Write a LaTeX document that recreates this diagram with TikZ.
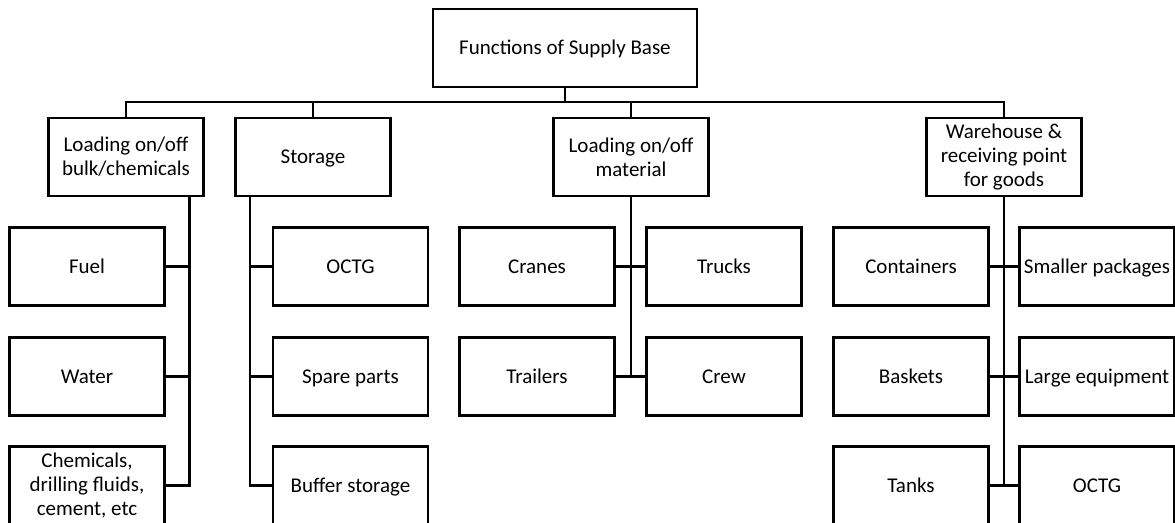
\documentclass[tikz,border=0pt]{standalone}
\usepackage{fontspec}
\setmainfont{Carlito}
\usetikzlibrary{positioning,calc}
\tikzset{fbox/.style={draw, line width=2.6pt, minimum width=155pt, minimum height=78pt, inner sep=1pt, align=center, font=\fontsize{21}{24}\selectfont}}
\tikzset{sbox/.style={fbox, text height=18pt, text depth=4.5pt}}
\tikzset{link/.style={draw, line width=2.6pt}}

\begin{document}
\begin{tikzpicture}[x=1pt, y=-1pt]
	\useasboundingbox (0,0) rectangle (1175,522);
	% top and first level
	\node[sbox, minimum width=264pt] (func) at (565,48) {Functions of Supply Base};
	\node[fbox] (bulk) at (126,157) {Loading on/off\\bulk/chemicals};
	\node[sbox] (store) at (313,157) {Storage};
	\node[fbox] (mat) at (631,157) {Loading on/off\\material};
	\node[fbox] (ware) at (1004,157) {Warehouse \&\\receiving point\\for goods};
	%
	\coordinate (bus) at (565,102);
	\draw[link] (func.south) -- (bus);
	\draw[link] (bulk.north) |- (bus) -| (ware.north);
	\draw[link] (store.north) |- (bus);
	\draw[link] (mat.north) |- (bus);
	% bulk/chemicals
	\node[sbox] (fuel) at (87,266.5) {Fuel};
	\node[sbox] (water) at (87,376.5) {Water};
	\node[fbox] (chem) at (87,485.5) {Chemicals,\\drilling fluids,\\cement, etc};
	\coordinate (tA) at ([xshift=-15.5pt]bulk.south east);
	\draw[link] (tA) |- (chem.east);
	\draw[link] (fuel.east) -- (fuel.east -| tA);
	\draw[link] (water.east) -- (water.east -| tA);
	% storage
	\node[sbox] (octg) at (350.5,266.5) {OCTG};
	\node[sbox] (spare) at (350.5,376.5) {Spare parts};
	\node[sbox] (buffer) at (350.5,485.5) {Buffer storage};
	\coordinate (tB) at ([xshift=15.7pt]store.south west);
	\draw[link] (tB) |- (buffer.west);
	\draw[link] (octg.west) -- (octg.west -| tB);
	\draw[link] (spare.west) -- (spare.west -| tB);
	% material
	\node[sbox] (cranes) at (537,266.5) {Cranes};
	\node[sbox] (trucks) at (724,266.5) {Trucks};
	\node[sbox] (trailers) at (537,376.5) {Trailers};
	\node[sbox] (crew) at (724,376.5) {Crew};
	\draw[link] (mat.south) -- (mat.south |- crew.west);
	\draw[link] (cranes.east) -- (trucks.west);
	\draw[link] (trailers.east) -- (crew.west);
	% warehouse
	\node[sbox] (cont) at (911,266.5) {Containers};
	\node[sbox] (small) at (1097,266.5) {Smaller packages};
	\node[sbox] (bask) at (911,376.5) {Baskets};
	\node[sbox] (large) at (1097,376.5) {Large equipment};
	\node[sbox] (tanks) at (911,485.5) {Tanks};
	\node[sbox] (octgb) at (1097,485.5) {OCTG};
	\draw[link] (ware.south) -- (ware.south |- tanks.east);
	\draw[link] (cont.east) -- (small.west);
	\draw[link] (bask.east) -- (large.west);
	\draw[link] (tanks.east) -- (octgb.west);
\end{tikzpicture}
\end{document}
